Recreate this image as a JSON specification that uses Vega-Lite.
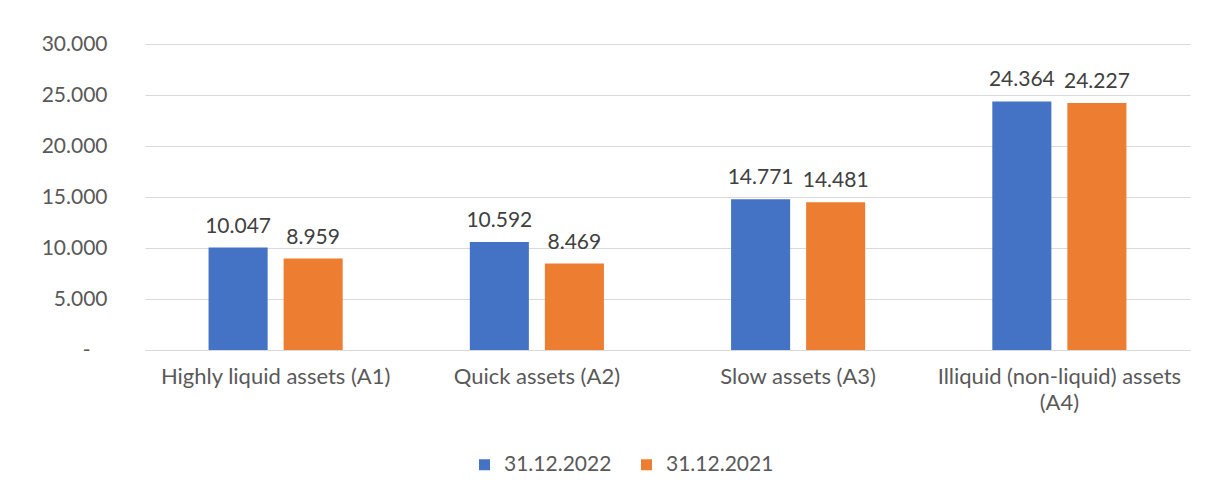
{
  "$schema": "https://vega.github.io/schema/vega-lite/v6.json",
  "width": 1045,
  "height": 306,
  "autosize": {"type": "none"},
  "padding": {"left": 145, "top": 44, "right": 16, "bottom": 142},
  "background": "white",
  "config": {
    "view": {"stroke": null},
    "font": "Lato",
    "locale": {"number": {"decimal": ",", "thousands": ".", "grouping": [3], "currency": ["", ""]}}
  },
  "data": {
    "values": [
      {"category": "Highly liquid assets (A1)", "date": "31.12.2022", "value": 10047},
      {"category": "Highly liquid assets (A1)", "date": "31.12.2021", "value": 8959},
      {"category": "Quick assets (A2)", "date": "31.12.2022", "value": 10592},
      {"category": "Quick assets (A2)", "date": "31.12.2021", "value": 8469},
      {"category": "Slow assets (A3)", "date": "31.12.2022", "value": 14771},
      {"category": "Slow assets (A3)", "date": "31.12.2021", "value": 14481},
      {"category": "Illiquid (non-liquid) assets (A4)", "date": "31.12.2022", "value": 24364},
      {"category": "Illiquid (non-liquid) assets (A4)", "date": "31.12.2021", "value": 24227}
    ]
  },
  "encoding": {
    "x": {
      "field": "category", "type": "nominal", "sort": null,
      "scale": {"paddingInner": 0, "paddingOuter": 0},
      "axis": {
        "title": null, "labelAngle": 0, "ticks": false,
        "domainColor": "#d9d9d9", "domainWidth": 1,
        "labelFontSize": 22, "labelColor": "#595959", "labelPadding": 16,
        "labelLineHeight": 26, "labelLimit": 300,
        "labelExpr": "datum.value == 'Illiquid (non-liquid) assets (A4)' ? ['Illiquid (non-liquid) assets', '(A4)'] : datum.value"
      }
    },
    "xOffset": {
      "field": "date", "type": "nominal", "sort": ["31.12.2022", "31.12.2021"],
      "scale": {"paddingInner": 0.213, "paddingOuter": 0.847}
    },
    "y": {
      "field": "value", "type": "quantitative",
      "scale": {"domain": [0, 30000]},
      "axis": {
        "title": null, "values": [0, 5000, 10000, 15000, 20000, 25000, 30000],
        "format": ",d", "domain": false, "ticks": false,
        "gridColor": "#d9d9d9", "gridWidth": 1,
        "labelFontSize": 21, "labelColor": "#595959",
        "labelPadding": {"condition": {"test": "datum.value == 0", "value": 55}, "value": 38},
        "labelExpr": "datum.value == 0 ? '-' : datum.label"
      }
    },
    "color": {
      "field": "date", "type": "nominal", "sort": ["31.12.2022", "31.12.2021"],
      "scale": {"domain": ["31.12.2022", "31.12.2021"], "range": ["#4472C4", "#ED7D31"]},
      "legend": {
        "title": null, "orient": "none", "direction": "horizontal",
        "legendX": 329, "legendY": 410,
        "symbolType": "square", "symbolSize": 121, "symbolStrokeWidth": 0,
        "labelFontSize": 21, "labelColor": "#595959", "labelOffset": 9,
        "columnPadding": 24
      }
    }
  },
  "layer": [
    {"mark": {"type": "bar"}},
    {
      "mark": {"type": "text", "baseline": "alphabetic", "dy": -15, "fontSize": 21, "color": "#404040"},
      "encoding": {"text": {"field": "value", "type": "quantitative", "format": ",d"}, "color": {"value": "#404040"}}
    }
  ]
}
